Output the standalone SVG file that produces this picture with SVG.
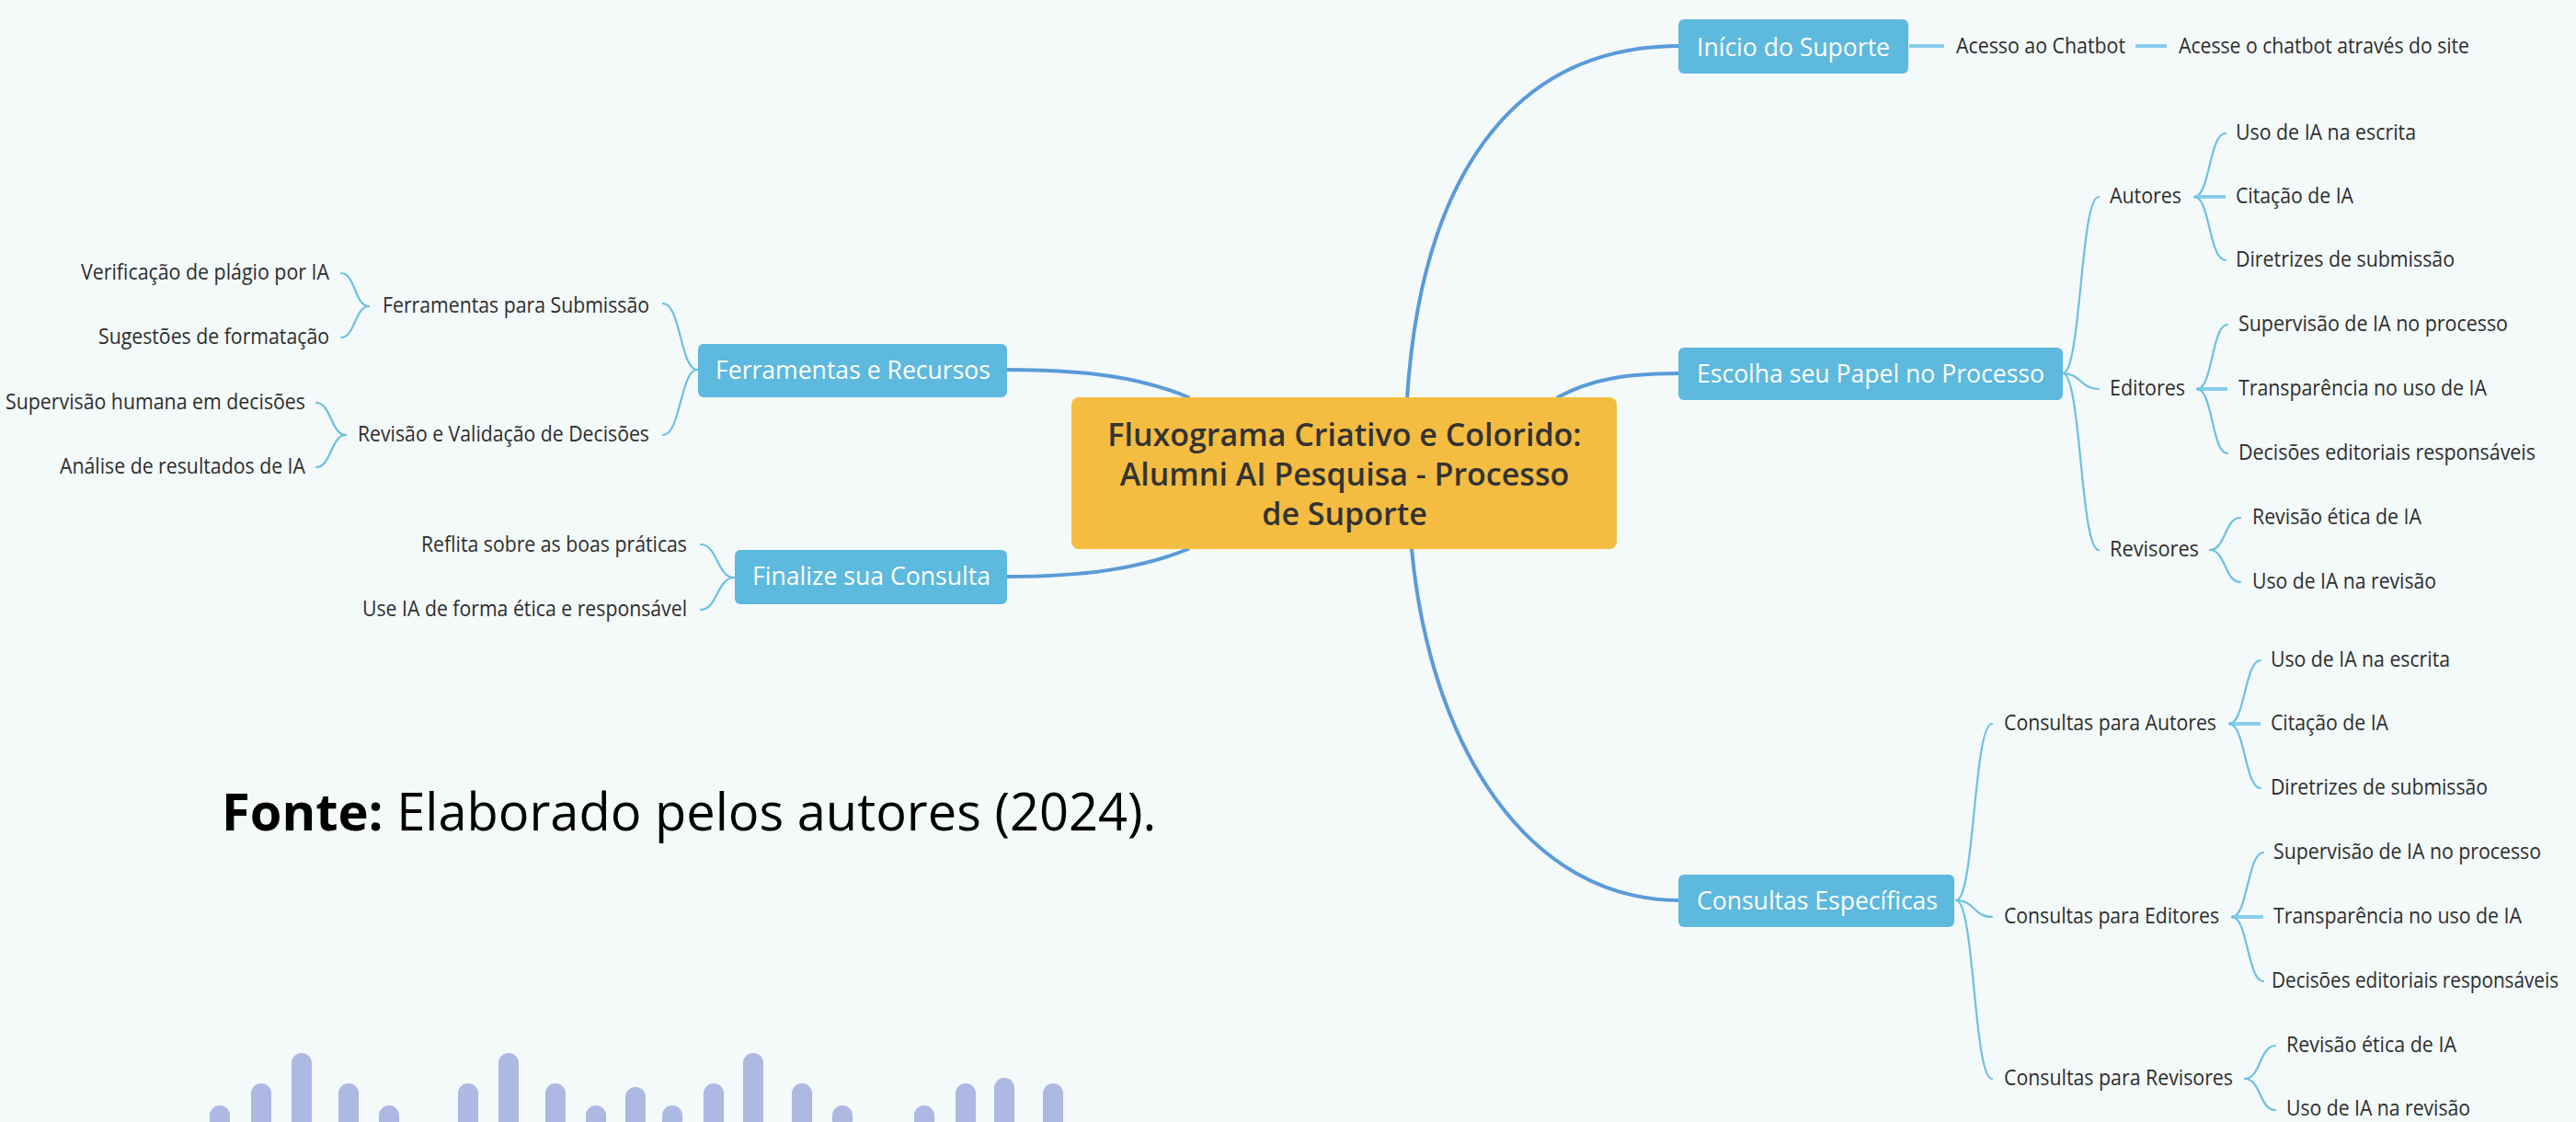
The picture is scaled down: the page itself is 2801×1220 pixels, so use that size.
<svg xmlns="http://www.w3.org/2000/svg" width="2801" height="1220" viewBox="0 0 2801 1220">
<style>
.bg{fill:#F4F9F9}
.box{fill:#5DB9DD}
.center{fill:#F4BD41}
.bt{font-family:"Open Sans","Liberation Sans",sans-serif;font-size:28px;fill:#FFFFFF}
.lbl{font-family:"Open Sans","Liberation Sans",sans-serif;font-size:23px;fill:#2E2E2E}
.title{font-family:"Open Sans","Liberation Sans",sans-serif;font-size:34px;font-weight:600;fill:#333333;text-anchor:middle}
.main{fill:none;stroke:#5A9BD8;stroke-width:4;stroke-linecap:round}
.sub{fill:none;stroke:#6CC0E3;stroke-width:2.2;stroke-linecap:round}
.tick{fill:none;stroke:#86CDEA;stroke-width:4}
.bar{fill:#ADB8E3}
.src{font-family:"Open Sans","Liberation Sans",sans-serif;font-size:56px;fill:#000000}
</style>
<rect class="bg" x="0" y="0" width="2801" height="1220"/>

<g id="connectors">
<path class="main" d="M1530,433 C1545,200 1640,50 1826,50"/>
<path class="main" d="M1694,432 C1730,412 1770,406 1826,406"/>
<path class="main" d="M1535,597 C1555,810 1660,979 1826,979"/>
<path class="main" d="M1292,432 C1240,410 1180,402 1094,402"/>
<path class="main" d="M1292,597 C1240,618 1180,627 1094,627"/>

<path class="tick" d="M2076,50 L2114,50"/>
<path class="tick" d="M2322,50 L2356,50"/>

<path class="sub" d="M2243,406 C2263,406 2262,214 2282,214"/>
<path class="sub" d="M2243,406 C2263,406 2262,423 2282,423"/>
<path class="sub" d="M2243,406 C2263,406 2262,598 2282,598"/>

<path class="sub" d="M2386,214 C2403,214 2402,145 2420,145"/>
<path class="tick" d="M2386,214 L2420,214"/>
<path class="sub" d="M2386,214 C2403,214 2402,283 2420,283"/>

<path class="sub" d="M2389,423 C2406,423 2405,353 2422,353"/>
<path class="tick" d="M2389,423 L2422,423"/>
<path class="sub" d="M2389,423 C2406,423 2405,493 2422,493"/>

<path class="sub" d="M2403,598 C2420,598 2419,563 2436,563"/>
<path class="sub" d="M2403,598 C2420,598 2419,633 2436,633"/>

<path class="sub" d="M2127,979 C2147,979 2146,787 2166,787"/>
<path class="sub" d="M2127,979 C2147,979 2146,997 2166,997"/>
<path class="sub" d="M2127,979 C2147,979 2146,1173 2166,1173"/>

<path class="sub" d="M2424,787 C2441,787 2441,718 2458,718"/>
<path class="tick" d="M2424,787 L2458,787"/>
<path class="sub" d="M2424,787 C2441,787 2441,857 2458,857"/>

<path class="sub" d="M2427,997 C2444,997 2444,927 2461,927"/>
<path class="tick" d="M2427,997 L2461,997"/>
<path class="sub" d="M2427,997 C2444,997 2444,1067 2461,1067"/>

<path class="sub" d="M2441,1173 C2458,1173 2457,1137 2474,1137"/>
<path class="sub" d="M2441,1173 C2458,1173 2457,1207 2474,1207"/>

<path class="sub" d="M758,402 C740,402 740,330 721,330"/>
<path class="sub" d="M758,402 C740,402 740,473 721,473"/>
<path class="sub" d="M401,333 C386,333 386,297 371,297"/>
<path class="sub" d="M401,333 C386,333 386,367 371,367"/>
<path class="sub" d="M376,473 C360,473 360,438 344,438"/>
<path class="sub" d="M376,473 C360,473 360,508 344,508"/>
<path class="sub" d="M798,628 C780,628 780,592 762,592"/>
<path class="sub" d="M798,628 C780,628 780,663 762,663"/>
</g>

<g id="node-center">
<rect class="center" x="1165" y="432" width="593" height="165" rx="8"/>
<text class="title" x="1462" y="485">Fluxograma Criativo e Colorido:</text>
<text class="title" x="1462" y="528">Alumni AI Pesquisa - Processo</text>
<text class="title" x="1462" y="571">de Suporte</text>
</g>

<g id="node-inicio">
<rect class="box" x="1825" y="21" width="250" height="59" rx="6"/>
<text class="bt" x="1845" y="61" textLength="210" lengthAdjust="spacingAndGlyphs">Início do Suporte</text>
</g>
<g id="node-acesso"><text class="lbl" x="2127" y="58" textLength="184" lengthAdjust="spacingAndGlyphs">Acesso ao Chatbot</text></g>
<g id="node-acesse"><text class="lbl" x="2369" y="58" textLength="316" lengthAdjust="spacingAndGlyphs">Acesse o chatbot através do site</text></g>

<g id="node-escolha">
<rect class="box" x="1825" y="378" width="418" height="57" rx="6"/>
<text class="bt" x="1845" y="416" textLength="378" lengthAdjust="spacingAndGlyphs">Escolha seu Papel no Processo</text>
</g>
<g id="node-autores"><text class="lbl" x="2294" y="221" textLength="78" lengthAdjust="spacingAndGlyphs">Autores</text></g>
<g id="node-a1"><text class="lbl" x="2431" y="152" textLength="196" lengthAdjust="spacingAndGlyphs">Uso de IA na escrita</text></g>
<g id="node-a2"><text class="lbl" x="2431" y="221" textLength="128" lengthAdjust="spacingAndGlyphs">Citação de IA</text></g>
<g id="node-a3"><text class="lbl" x="2431" y="290" textLength="238" lengthAdjust="spacingAndGlyphs">Diretrizes de submissão</text></g>
<g id="node-editores"><text class="lbl" x="2294" y="430" textLength="82" lengthAdjust="spacingAndGlyphs">Editores</text></g>
<g id="node-e1"><text class="lbl" x="2434" y="360" textLength="293" lengthAdjust="spacingAndGlyphs">Supervisão de IA no processo</text></g>
<g id="node-e2"><text class="lbl" x="2434" y="430" textLength="270" lengthAdjust="spacingAndGlyphs">Transparência no uso de IA</text></g>
<g id="node-e3"><text class="lbl" x="2434" y="500" textLength="323" lengthAdjust="spacingAndGlyphs">Decisões editoriais responsáveis</text></g>
<g id="node-revisores"><text class="lbl" x="2294" y="605" textLength="97" lengthAdjust="spacingAndGlyphs">Revisores</text></g>
<g id="node-r1"><text class="lbl" x="2449" y="570" textLength="184" lengthAdjust="spacingAndGlyphs">Revisão ética de IA</text></g>
<g id="node-r2"><text class="lbl" x="2449" y="640" textLength="200" lengthAdjust="spacingAndGlyphs">Uso de IA na revisão</text></g>

<g id="node-consultas">
<rect class="box" x="1825" y="951" width="300" height="57" rx="6"/>
<text class="bt" x="1845" y="989" textLength="262" lengthAdjust="spacingAndGlyphs">Consultas Específicas</text>
</g>
<g id="node-ca"><text class="lbl" x="2179" y="794" textLength="231" lengthAdjust="spacingAndGlyphs">Consultas para Autores</text></g>
<g id="node-ca1"><text class="lbl" x="2469" y="725" textLength="195" lengthAdjust="spacingAndGlyphs">Uso de IA na escrita</text></g>
<g id="node-ca2"><text class="lbl" x="2469" y="794" textLength="128" lengthAdjust="spacingAndGlyphs">Citação de IA</text></g>
<g id="node-ca3"><text class="lbl" x="2469" y="864" textLength="236" lengthAdjust="spacingAndGlyphs">Diretrizes de submissão</text></g>
<g id="node-ce"><text class="lbl" x="2179" y="1004" textLength="234" lengthAdjust="spacingAndGlyphs">Consultas para Editores</text></g>
<g id="node-ce1"><text class="lbl" x="2472" y="934" textLength="291" lengthAdjust="spacingAndGlyphs">Supervisão de IA no processo</text></g>
<g id="node-ce2"><text class="lbl" x="2472" y="1004" textLength="270" lengthAdjust="spacingAndGlyphs">Transparência no uso de IA</text></g>
<g id="node-ce3"><text class="lbl" x="2470" y="1074" font-size="21" textLength="312" lengthAdjust="spacingAndGlyphs">Decisões editoriais responsáveis</text></g>
<g id="node-cr"><text class="lbl" x="2179" y="1180" textLength="249" lengthAdjust="spacingAndGlyphs">Consultas para Revisores</text></g>
<g id="node-cr1"><text class="lbl" x="2486" y="1144" textLength="185" lengthAdjust="spacingAndGlyphs">Revisão ética de IA</text></g>
<g id="node-cr2"><text class="lbl" x="2486" y="1213" textLength="200" lengthAdjust="spacingAndGlyphs">Uso de IA na revisão</text></g>

<g id="node-ferramentas">
<rect class="box" x="759" y="374" width="336" height="58" rx="6"/>
<text class="bt" x="778" y="412" textLength="299" lengthAdjust="spacingAndGlyphs">Ferramentas e Recursos</text>
</g>
<g id="node-fs"><text class="lbl" x="416" y="340" textLength="290" lengthAdjust="spacingAndGlyphs">Ferramentas para Submissão</text></g>
<g id="node-fs1"><text class="lbl" x="88" y="304" textLength="270" lengthAdjust="spacingAndGlyphs">Verificação de plágio por IA</text></g>
<g id="node-fs2"><text class="lbl" x="107" y="374" textLength="251" lengthAdjust="spacingAndGlyphs">Sugestões de formatação</text></g>
<g id="node-fr"><text class="lbl" x="389" y="480" textLength="317" lengthAdjust="spacingAndGlyphs">Revisão e Validação de Decisões</text></g>
<g id="node-fr1"><text class="lbl" x="6" y="445" textLength="326" lengthAdjust="spacingAndGlyphs">Supervisão humana em decisões</text></g>
<g id="node-fr2"><text class="lbl" x="65" y="515" textLength="267" lengthAdjust="spacingAndGlyphs">Análise de resultados de IA</text></g>

<g id="node-finalize">
<rect class="box" x="799" y="598" width="296" height="59" rx="6"/>
<text class="bt" x="818" y="636" textLength="259" lengthAdjust="spacingAndGlyphs">Finalize sua Consulta</text>
</g>
<g id="node-f1"><text class="lbl" x="458" y="600" textLength="289" lengthAdjust="spacingAndGlyphs">Reflita sobre as boas práticas</text></g>
<g id="node-f2"><text class="lbl" x="394" y="670" textLength="353" lengthAdjust="spacingAndGlyphs">Use IA de forma ética e responsável</text></g>

<g id="source">
<text class="src" x="241" y="903"><tspan font-weight="700">Fonte:</tspan> Elaborado pelos autores (2024).</text>
</g>

<g id="bars">
<rect class="bar" x="228" y="1202" width="22" height="60" rx="11"/>
<rect class="bar" x="273" y="1178" width="22" height="80" rx="11"/>
<rect class="bar" x="317" y="1145" width="22" height="110" rx="11"/>
<rect class="bar" x="368" y="1178" width="22" height="80" rx="11"/>
<rect class="bar" x="412" y="1202" width="22" height="60" rx="11"/>
<rect class="bar" x="498" y="1178" width="22" height="80" rx="11"/>
<rect class="bar" x="542" y="1145" width="22" height="110" rx="11"/>
<rect class="bar" x="593" y="1178" width="22" height="80" rx="11"/>
<rect class="bar" x="637" y="1202" width="22" height="60" rx="11"/>
<rect class="bar" x="680" y="1182" width="22" height="80" rx="11"/>
<rect class="bar" x="720" y="1202" width="22" height="60" rx="11"/>
<rect class="bar" x="765" y="1178" width="22" height="80" rx="11"/>
<rect class="bar" x="808" y="1145" width="22" height="110" rx="11"/>
<rect class="bar" x="861" y="1178" width="22" height="80" rx="11"/>
<rect class="bar" x="905" y="1202" width="22" height="60" rx="11"/>
<rect class="bar" x="994" y="1202" width="22" height="60" rx="11"/>
<rect class="bar" x="1039" y="1178" width="22" height="80" rx="11"/>
<rect class="bar" x="1081" y="1172" width="22" height="90" rx="11"/>
<rect class="bar" x="1134" y="1178" width="22" height="80" rx="11"/>
</g>
</svg>
